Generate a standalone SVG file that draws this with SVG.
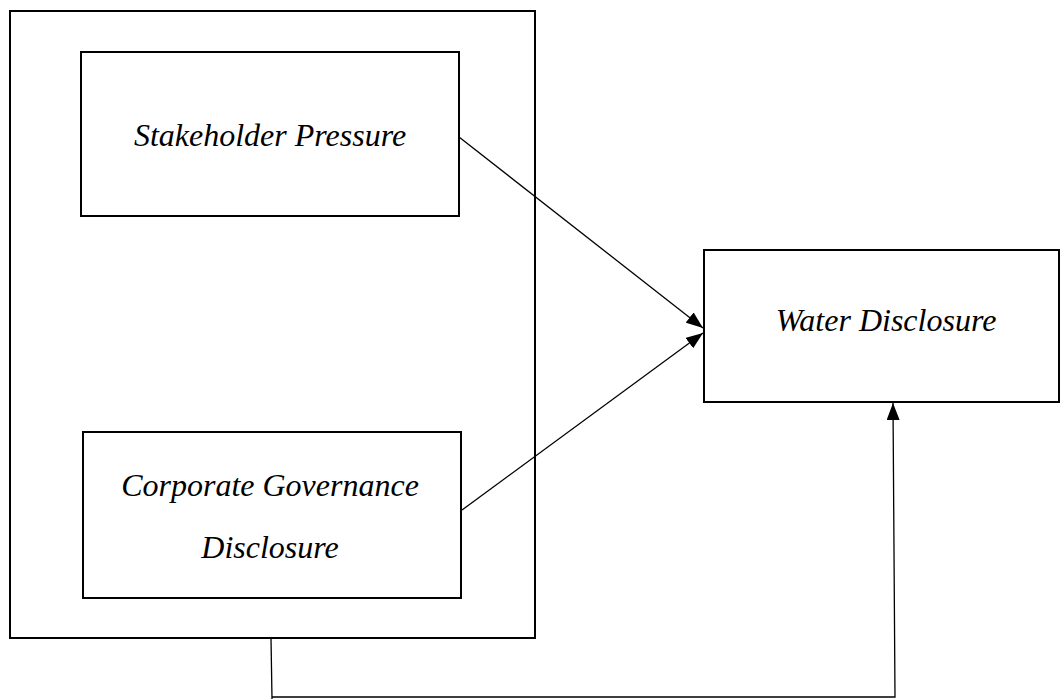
<svg xmlns="http://www.w3.org/2000/svg" width="1060" height="699" viewBox="0 0 1060 699">
<style>
.box{fill:none;stroke:#000;stroke-width:2}
.lbl{font-family:"Liberation Serif","Times New Roman",serif;font-style:italic;font-size:32px;fill:#000;text-anchor:middle}
.conn{fill:none;stroke:#000;stroke-width:1.3}
</style>
<defs>
<marker id="ah" viewBox="0 0 17 13" refX="17" refY="6.5" markerWidth="17" markerHeight="13" markerUnits="userSpaceOnUse" orient="auto">
<path d="M0,0 L17,6.5 L0,13 Z" fill="#000"/>
</marker>
</defs>
<rect width="1060" height="699" fill="#fff"/>
<g id="outer-group">
<rect class="box" x="10" y="11" width="525" height="627"/>
</g>
<g id="stakeholder-pressure">
<rect class="box" x="81" y="52" width="378" height="164"/>
<text class="lbl" x="270" y="146">Stakeholder Pressure</text>
</g>
<g id="corporate-governance-disclosure">
<rect class="box" x="83" y="432" width="378" height="166"/>
<text class="lbl" x="270" y="496">Corporate Governance</text>
<text class="lbl" x="270" y="558">Disclosure</text>
</g>
<g id="water-disclosure">
<rect class="box" x="704" y="250" width="355" height="152"/>
<text class="lbl" x="886" y="331">Water Disclosure</text>
</g>
<g id="connectors">
<line class="conn" x1="459" y1="137" x2="703" y2="328" marker-end="url(#ah)"/>
<line class="conn" x1="462" y1="510" x2="703" y2="333" marker-end="url(#ah)"/>
<polyline class="conn" points="271,638 272,699"/>
<polyline class="conn" points="272,697 895,697 893,403" marker-end="url(#ah)"/>
</g>
</svg>
